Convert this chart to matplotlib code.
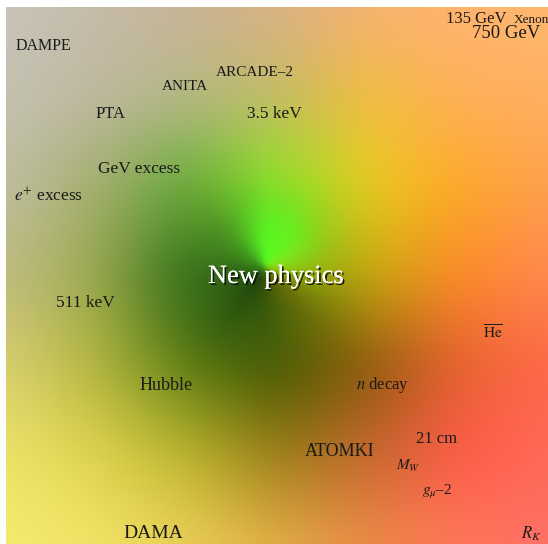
import numpy as np
import matplotlib
matplotlib.use("Agg")
import matplotlib.pyplot as plt
import matplotlib.colors as mcolors
import matplotlib.patheffects as pe

plt.rcParams['font.family'] = ['Liberation Serif', 'DejaVu Serif']
plt.rcParams['mathtext.fontset'] = 'stix'

# coarse colour grid of the background, rows top -> bottom, columns left -> right
grid_x = [6, 96, 186, 277, 367, 457, 548]
grid_y = [7, 97, 186, 276, 365, 455, 544]
grid_c = [
    ['#c8c4b8', '#c6bcaa', '#c8b498', '#dab286', '#f6b272', '#ffb470', '#ffb870'],
    ['#c4c2b2', '#c0b8a0', '#b8b888', '#c8b868', '#f4bc40', '#ffb058', '#ffb060'],
    ['#c0bea0', '#a8b070', '#70b040', '#a8d828', '#f8c820', '#ffa828', '#ffa050'],
    ['#c0bc80', '#a0ac50', '#3e7a1c', '#408020', '#d0a010', '#ff8828', '#ff8850'],
    ['#d8d070', '#b8b840', '#6a8a14', '#4a5c00', '#905810', '#e86030', '#ff6848'],
    ['#ece468', '#e0d450', '#c0b830', '#a08018', '#c86830', '#ff5a48', '#ff6a58'],
    ['#f5ec70', '#f2e468', '#ecd058', '#e4b048', '#ec8c48', '#ff7858', '#ff7068'],
]

# swirl around the centre: colour by direction (degrees clockwise from up)
swirl_centre = (265, 268)
swirl_angle = [0, 30, 60, 90, 135, 180, 215, 270, 315, 345, 360]
swirl_c = ['#50ff20', '#60ff20', '#90e818', '#a8c808', '#6a6800', '#304c06', '#1a3e0a',
           '#2a6014', '#3c901c', '#48d820', '#50ff20']

# soft bright-green glow just above the centre
glow_centre = (280, 238)
glow_c = '#5cff22'

labels = ["DAMPE", "ARCADE\u20132", "ANITA", "PTA", "3.5 keV", "GeV excess",
          r"$e^{+}$ excess", "511 keV", "Hubble", r"$n$ decay", r"$\overline{\mathrm{He}}$",
          "21 cm", "ATOMKI", r"$M_W$", r"$g_\mu$" + "\u20132", "DAMA", r"$R_K$",
          "135 GeV", "Xenon", "750 GeV"]
label_x = [16, 216, 162, 96, 247, 98, 14, 56, 140, 356, 483, 416, 305, 396, 422, 123, 521,
           446, 514, 472]
label_y = [46, 72, 87, 114, 114, 169, 196, 303, 385, 385, 333, 439, 452, 466, 492, 533, 534,
           19, 20, 34]
label_size = [11.5, 11, 11, 12, 12.5, 12.5, 12.5, 12.5, 13, 12, 11, 12, 13, 11, 11,
              14, 12, 12, 9.5, 13.5]

W, H = 548, 544
fig = plt.figure(figsize=(W / 100, H / 100), dpi=100)
ax = fig.add_axes([0, 0, 1, 1])
ax.set_xlim(0, W)
ax.set_ylim(H, 0)
ax.axis('off')

# background: bilinear from the coarse grid, then a wide blur
px = np.arange(6, W) + 0.5
py = np.arange(7, H) + 0.5
cg = np.array([[mcolors.to_rgb(c) for c in row] for row in grid_c])
rows = np.stack([np.stack([np.interp(px, grid_x, cg[i, :, ch]) for ch in range(3)], -1)
                 for i in range(len(grid_y))])
img = np.stack([np.stack([np.interp(py, grid_y, rows[:, j, ch]) for ch in range(3)], -1)
                for j in range(len(px))], 1)


def blur(a, s):
    n = int(3 * s)
    k = np.exp(-0.5 * (np.arange(-n, n + 1) / s) ** 2)
    k /= k.sum()
    p = np.pad(a, ((n, n), (n, n), (0, 0)), mode='edge')
    p = np.apply_along_axis(lambda v: np.convolve(v, k, mode='same'), 0, p)
    p = np.apply_along_axis(lambda v: np.convolve(v, k, mode='same'), 1, p)
    return p[n:-n, n:-n]


img = blur(img, 22)

# swirl overlay
X, Y = np.meshgrid(px, py)
dx = X - swirl_centre[0]
dy = Y - swirl_centre[1]
ang = np.degrees(np.arctan2(dx, -dy)) % 360
sc = np.array([mcolors.to_rgb(c) for c in swirl_c])
swirl = np.stack([np.interp(ang, swirl_angle, sc[:, ch]) for ch in range(3)], -1)
r = np.hypot(dx, dy)
alpha = np.exp(-(r / 80.0) ** 1.4)[..., None]
img = img * (1 - alpha) + swirl * alpha

# glow
rg = np.hypot(X - glow_centre[0], Y - glow_centre[1])
ga = (0.55 * np.exp(-(rg / 32.0) ** 2) * (dy < 8))[..., None]
img = img * (1 - ga) + np.array(mcolors.to_rgb(glow_c)) * ga
img = np.clip(blur(img, 3), 0, 1)

ax.imshow(img, extent=[6, W, H, 7], interpolation='bilinear', aspect='auto')

for t, x, y, s in zip(labels, label_x, label_y, label_size):
    ax.text(x, y, t, fontsize=s, ha='left', va='center', color='#1a1a1a')

ax.text(276, 277, "New physics", fontsize=19, ha='center', va='center', color='white',
        path_effects=[pe.withSimplePatchShadow(offset=(1.3, -1.3), shadow_rgbFace='black', alpha=0.8),
                      pe.Normal()])

fig.savefig("out.png", dpi=100)
